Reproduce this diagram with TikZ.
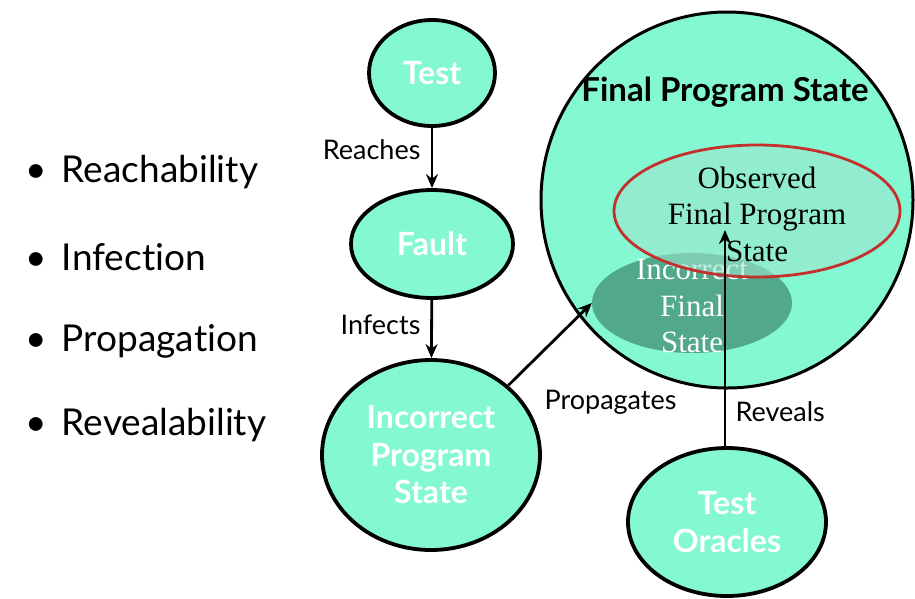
\documentclass[tikz,border=0pt]{standalone}
\usepackage{fontspec}
\setmainfont[Ligatures={NoCommon,NoRequired,NoContextual}]{Lato}
\newfontfamily\serifr{Liberation Serif}
\usetikzlibrary{shapes.geometric,arrows.meta}
\definecolor{aqua}{HTML}{84F8D2}
\definecolor{darkgr}{HTML}{4A9A7E}
\definecolor{obsfill}{HTML}{9CE6CF}
\definecolor{redline}{HTML}{C4302B}
\tikzset{
  bub/.style={ellipse, draw=black, line width=3.8pt, fill=aqua, inner sep=0pt, text=white, font=\fontsize{32}{37}\selectfont\bfseries, align=center},
  lbl/.style={font=\fontsize{27}{30}\selectfont, text=black},
  bul/.style={font=\fontsize{37}{40}\selectfont, anchor=west, text=black},
  arr/.style={-{Stealth[length=14pt,width=12pt]}, line width=2.8pt, black},
}
\begin{document}
\begin{tikzpicture}[x=1pt,y=-1pt]
\useasboundingbox[fill=white] (0,0) rectangle (915,598);
% bullets
\node[bul] (b1) at (22,172) {•\hspace{15pt}Reachability};
\node[bul] (b2) at (22,257) {•\hspace{15pt}Infection};
\node[bul] (b3) at (22,341) {•\hspace{15pt}Propagation};
\node[bul] (b4) at (22,425) {•\hspace{15pt}Revealability};
% big circle
\node[ellipse, draw=black, line width=3pt, fill=aqua, minimum width=372pt, minimum height=376pt, inner sep=0pt] (fps) at (727,200) {};
\node[font=\fontsize{33}{36}\selectfont\bfseries] (fpst) at (725,92) {Final Program State};
% incorrect final state
\node[ellipse, fill=darkgr, fill opacity=0.85, minimum width=200pt, minimum height=100pt, inner sep=0pt] (ifs) at (692,303) {};
\node[font=\serifr\fontsize{31}{36.5}\selectfont, text=white, align=center] (ifst) at (692,306) {Incorrect\\Final\\State};
% observed
\node[ellipse, draw=redline, line width=2.8pt, fill=obsfill, fill opacity=0.6, minimum width=286pt, minimum height=132pt, inner sep=0pt] (obs) at (757,211) {};
\node[font=\serifr\fontsize{31}{36.5}\selectfont, text=black, align=center] (obst) at (757,214) {Observed\\Final Program\\State};
% left chain
\node[bub, minimum width=126pt, minimum height=106pt] (test) at (432,73) {Test};
\node[bub, minimum width=162pt, minimum height=108pt] (fault) at (432,244) {Fault};
\node[bub, minimum width=218pt, minimum height=190pt, font=\fontsize{32}{37.5}\selectfont\bfseries] (ips) at (431,455) {Incorrect\\Program\\State};
\node[bub, minimum width=198pt, minimum height=148pt, font=\fontsize{32}{38}\selectfont\bfseries] (to) at (727,522) {Test\\Oracles};
% arrows
\draw[arr] (test) -- (fault);
\draw[arr] (fault) -- (ips);
\draw[arr] (ips.42) -- (ifs.west);
\coordinate (revtip) at (725,230);
\draw[arr] (to.north -| revtip) -- (revtip);
% labels
\node[lbl, anchor=east] (l1) at (424,150) {Reaches};
\node[lbl, anchor=east] (l2) at (424,325) {Infects};
\node[lbl, anchor=west] (l3) at (541,402) {Propagates};
\node[lbl, anchor=west] (l4) at (732,412) {Reveals};
\end{tikzpicture}
\end{document}
